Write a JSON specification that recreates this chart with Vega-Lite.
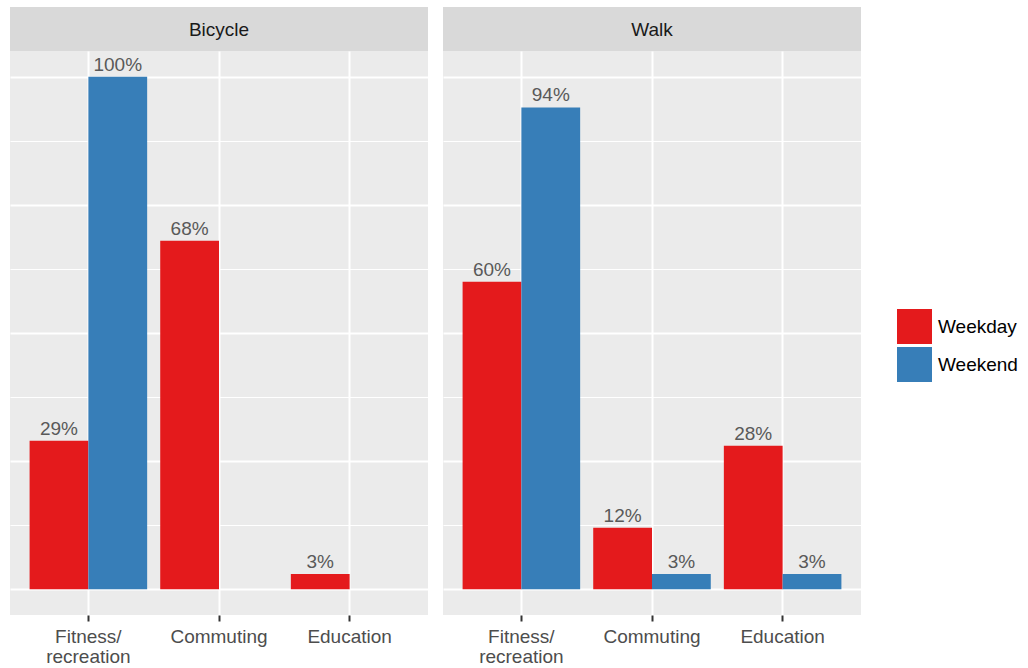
{
  "$schema": "https://vega.github.io/schema/vega-lite/v6.json",
  "padding": {"left": 10, "top": 7, "right": 0, "bottom": 0},
  "background": "white",
  "config": {
    "font": "Liberation Sans",
    "concat": {"spacing": 15}
  },
  "datasets": {
    "usage": [
      {"mode": "Bicycle", "purpose": "Fitness/recreation", "day": "Weekday", "share": 0.29},
      {"mode": "Bicycle", "purpose": "Fitness/recreation", "day": "Weekend", "share": 1.00},
      {"mode": "Bicycle", "purpose": "Commuting", "day": "Weekday", "share": 0.68},
      {"mode": "Bicycle", "purpose": "Education", "day": "Weekday", "share": 0.03},
      {"mode": "Walk", "purpose": "Fitness/recreation", "day": "Weekday", "share": 0.60},
      {"mode": "Walk", "purpose": "Fitness/recreation", "day": "Weekend", "share": 0.94},
      {"mode": "Walk", "purpose": "Commuting", "day": "Weekday", "share": 0.12},
      {"mode": "Walk", "purpose": "Commuting", "day": "Weekend", "share": 0.03},
      {"mode": "Walk", "purpose": "Education", "day": "Weekday", "share": 0.28},
      {"mode": "Walk", "purpose": "Education", "day": "Weekend", "share": 0.03}
    ],
    "panels": [{"mode": "Bicycle"}, {"mode": "Walk"}]
  },
  "hconcat": [
    {
      "spacing": 0,
      "vconcat": [
        {
          "width": 418, "height": 44,
          "view": {"fill": "#D9D9D9", "stroke": null},
          "data": {"name": "panels"},
          "transform": [{"filter": "datum.mode === 'Bicycle'"}],
          "mark": {"type": "text", "fontSize": 19, "color": "#1A1A1A", "align": "center", "baseline": "middle", "dy": 1},
          "encoding": {"text": {"field": "mode"}}
        },
        {
          "width": 418, "height": 564,
          "view": {"fill": "#EBEBEB", "stroke": null},
          "data": {"name": "usage"},
          "transform": [{"filter": "datum.mode === 'Bicycle'"}],
          "encoding": {
            "x": {"field": "purpose", "type": "nominal", "sort": ["Fitness/recreation", "Commuting", "Education"],
              "scale": {"paddingInner": 0.1, "paddingOuter": 0.15},
              "axis": {"title": null, "domain": false, "tickColor": "#333333", "tickWidth": 2, "tickSize": 6,
                "labelPadding": 6, "labelFontSize": 19, "labelColor": "#4D4D4D", "labelAngle": 0,
                "labelLineHeight": 20, "labelOverlap": false, "labelBound": false, "labelFlush": false,
                "labelExpr": "datum.value == 'Fitness/recreation' ? ['Fitness/', 'recreation'] : datum.value",
                "grid": true, "gridColor": "white", "gridWidth": 2, "bandPosition": 0.5}},
            "xOffset": {"field": "day", "type": "nominal", "sort": ["Weekday", "Weekend"], "scale": {"domain": ["Weekday", "Weekend"]}},
            "y": {"field": "share", "type": "quantitative", "stack": null,
              "scale": {"domain": [-0.05, 1.05], "nice": false, "zero": false},
              "axis": {"title": null, "labels": false, "ticks": false, "domain": false, "minExtent": 0, "maxExtent": 0,
                "values": [0, 0.125, 0.25, 0.375, 0.5, 0.625, 0.75, 0.875, 1.0],
                "grid": true, "gridColor": "white",
                "gridWidth": {"condition": {"test": "abs(datum.value * 4 - round(datum.value * 4)) < 0.001", "value": 2}, "value": 1}}}
          },
          "layer": [
            {
              "mark": {"type": "bar"},
              "encoding": {
                "y2": {"datum": 0},
                "color": {"field": "day", "type": "nominal",
                  "scale": {"domain": ["Weekday", "Weekend"], "range": ["#E41A1C", "#377EB8"]},
                  "legend": {"title": null, "orient": "none", "legendX": 887, "legendY": 302,
                    "symbolType": "square", "symbolSize": 1225, "symbolStrokeWidth": 0, "symbolOpacity": 1,
                    "labelFontSize": 19, "labelColor": "#000000", "rowPadding": 3, "labelOffset": 6, "padding": 0}}
              }
            },
            {
              "mark": {"type": "text", "fontSize": 19, "color": "#595959", "align": "center", "baseline": "alphabetic", "dy": -6},
              "encoding": {"text": {"field": "share", "type": "quantitative", "format": ".0%"}}
            }
          ]
        }
      ]
    },
    {
      "spacing": 0,
      "vconcat": [
        {
          "width": 418, "height": 44,
          "view": {"fill": "#D9D9D9", "stroke": null},
          "data": {"name": "panels"},
          "transform": [{"filter": "datum.mode === 'Walk'"}],
          "mark": {"type": "text", "fontSize": 19, "color": "#1A1A1A", "align": "center", "baseline": "middle", "dy": 1},
          "encoding": {"text": {"field": "mode"}}
        },
        {
          "width": 418, "height": 564,
          "view": {"fill": "#EBEBEB", "stroke": null},
          "data": {"name": "usage"},
          "transform": [{"filter": "datum.mode === 'Walk'"}],
          "encoding": {
            "x": {"field": "purpose", "type": "nominal", "sort": ["Fitness/recreation", "Commuting", "Education"],
              "scale": {"paddingInner": 0.1, "paddingOuter": 0.15},
              "axis": {"title": null, "domain": false, "tickColor": "#333333", "tickWidth": 2, "tickSize": 6,
                "labelPadding": 6, "labelFontSize": 19, "labelColor": "#4D4D4D", "labelAngle": 0,
                "labelLineHeight": 20, "labelOverlap": false, "labelBound": false, "labelFlush": false,
                "labelExpr": "datum.value == 'Fitness/recreation' ? ['Fitness/', 'recreation'] : datum.value",
                "grid": true, "gridColor": "white", "gridWidth": 2, "bandPosition": 0.5}},
            "xOffset": {"field": "day", "type": "nominal", "sort": ["Weekday", "Weekend"], "scale": {"domain": ["Weekday", "Weekend"]}},
            "y": {"field": "share", "type": "quantitative", "stack": null,
              "scale": {"domain": [-0.05, 1.05], "nice": false, "zero": false},
              "axis": {"title": null, "labels": false, "ticks": false, "domain": false, "minExtent": 0, "maxExtent": 0,
                "values": [0, 0.125, 0.25, 0.375, 0.5, 0.625, 0.75, 0.875, 1.0],
                "grid": true, "gridColor": "white",
                "gridWidth": {"condition": {"test": "abs(datum.value * 4 - round(datum.value * 4)) < 0.001", "value": 2}, "value": 1}}}
          },
          "layer": [
            {
              "mark": {"type": "bar"},
              "encoding": {
                "y2": {"datum": 0},
                "color": {"field": "day", "type": "nominal",
                  "scale": {"domain": ["Weekday", "Weekend"], "range": ["#E41A1C", "#377EB8"]},
                  "legend": {"title": null, "orient": "none", "legendX": 887, "legendY": 302,
                    "symbolType": "square", "symbolSize": 1225, "symbolStrokeWidth": 0, "symbolOpacity": 1,
                    "labelFontSize": 19, "labelColor": "#000000", "rowPadding": 3, "labelOffset": 6, "padding": 0}}
              }
            },
            {
              "mark": {"type": "text", "fontSize": 19, "color": "#595959", "align": "center", "baseline": "alphabetic", "dy": -6},
              "encoding": {"text": {"field": "share", "type": "quantitative", "format": ".0%"}}
            }
          ]
        }
      ]
    }
  ]
}
